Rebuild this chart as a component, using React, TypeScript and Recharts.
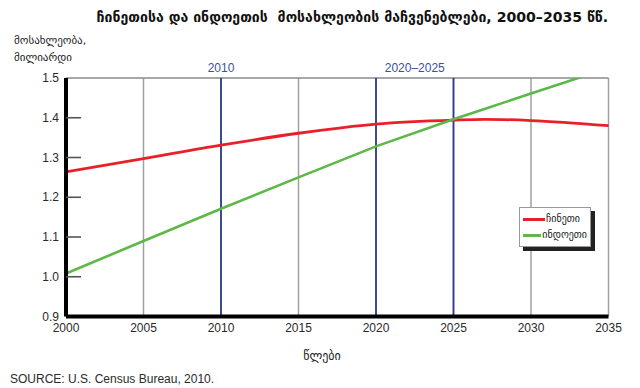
import React from 'react';
import { LineChart, Line, XAxis, YAxis, CartesianGrid, ReferenceLine, Legend } from 'recharts';

const years = [2000, 2005, 2010, 2015, 2020, 2025, 2027, 2030, 2035];
const china = [1.264, 1.297, 1.331, 1.361, 1.384, 1.394, 1.396, 1.393, 1.38];
const india = [1.008, 1.09, 1.171, 1.25, 1.328, 1.396, 1.422, 1.461, 1.525];
const xTicks = [2000, 2005, 2010, 2015, 2020, 2025, 2030, 2035];
const yTicks = [0.9, 1.0, 1.1, 1.2, 1.3, 1.4, 1.5];
const markerYears = [2010, 2020, 2025];
const markerLabels = [
  { x: 2010, text: '2010' },
  { x: 2022.5, text: '2020–2025' },
];
const seriesNames = { china: 'ჩინეთი', india: 'ინდოეთი' };
const title = 'ჩინეთისა და ინდოეთის  მოსახლეობის მაჩვენებლები, 2000–2035 წწ.';
const yLabel = ['მოსახლეობა,', 'მილიარდი'];
const xLabel = 'წლები';
const source = 'SOURCE: U.S. Census Bureau, 2010.';

const data = years.map((y, i) => ({ year: y, china: china[i], india: india[i] }));

const RED = '#e8202a';
const GREEN = '#5db848';
const BLUE = '#2e3d8f';
const GEO = '"DejaVu Sans", sans-serif';
const LAT = '"Liberation Sans", Arial, sans-serif';

const YTick = (props: any) => {
  const { x, y, payload } = props;
  const v = payload.value;
  const inner = v > 0.95 && v < 1.45;
  return (
    <g>
      <text x={x} y={y} dy={4} textAnchor="end" fontSize={12} fontFamily={LAT} fill="#2a2a2a">
        {Number(v).toFixed(1)}
      </text>
      {inner && <line x1={x + 7} x2={x + 22} y1={y} y2={y} stroke="#555" strokeWidth={1.6} />}
    </g>
  );
};

const LegendBox = () => (
  <div
    style={{
      background: '#fff',
      border: '1px solid #9a9a9a',
      boxShadow: '4px 4px 0 #222',
      padding: '3px 3px 3px 3px',
      fontFamily: GEO,
      fontSize: 10,
      color: '#1a1a1a',
      lineHeight: '16px',
      width: 64,
    }}
  >
    {[
      { name: seriesNames.china, color: RED },
      { name: seriesNames.india, color: GREEN },
    ].map((e) => (
      <div key={e.name} style={{ display: 'flex', alignItems: 'center' }}>
        <span style={{ display: 'inline-block', width: 22, height: 3, background: e.color, marginRight: 1 }} />
        <span>{e.name}</span>
      </div>
    ))}
  </div>
);

export default function App() {
  return (
    <div style={{ position: 'absolute', left: 0, top: 0, width: 640, height: 388, background: '#fff' }}>
      <LineChart width={640} height={388} data={data} margin={{ top: 78, right: 31.5, bottom: 41, left: 0 }}>
        <CartesianGrid vertical horizontal={false} stroke="#a0a0a0" strokeWidth={1.5} />
        <XAxis
          dataKey="year"
          type="number"
          domain={[2000, 2035]}
          ticks={xTicks}
          height={30.5}
          tickSize={0}
          tickMargin={7}
          tick={{ fontSize: 12, fontFamily: LAT, fill: '#2a2a2a' }}
          axisLine={{ stroke: '#000', strokeWidth: 4 }}
          tickLine={false}
        />
        <YAxis
          type="number"
          domain={[0.9, 1.5]}
          ticks={yTicks}
          allowDataOverflow
          width={66}
          tickSize={0}
          tickMargin={7}
          tick={<YTick />}
          axisLine={{ stroke: '#000', strokeWidth: 4 }}
          tickLine={false}
        />
        <ReferenceLine y={1.5} stroke="#8a8a8a" strokeWidth={1.5} />
        {markerYears.map((m) => (
          <ReferenceLine key={m} x={m} stroke={BLUE} strokeWidth={1.8} />
        ))}
        {markerLabels.map((m) => (
          <ReferenceLine
            key={m.text}
            x={m.x}
            stroke="none"
            label={{ value: m.text, position: 'top', fill: '#3d4f9f', fontSize: 12, fontFamily: LAT, offset: 6 }}
          />
        ))}
        <Line dataKey="china" type="monotone" stroke={RED} strokeWidth={2.8} dot={false} isAnimationActive={false} />
        <Line dataKey="india" type="linear" stroke={GREEN} strokeWidth={2.6} dot={false} isAnimationActive={false} />
        <Legend
          layout="vertical"
          align="center"
          verticalAlign="middle"
          content={<LegendBox />}
          wrapperStyle={{ position: 'absolute', left: 519, top: 207, width: 'auto' }}
        />
        <text x={608} y={22} textAnchor="end" fontSize={14.1} fontWeight="bold" fontFamily={GEO} fill="#111" style={{ whiteSpace: 'pre' }}>
          {title}
        </text>
        <text x={14} y={44} fontSize={11} fontFamily={GEO} fill="#222">{yLabel[0]}</text>
        <text x={14} y={61} fontSize={11} fontFamily={GEO} fill="#222">{yLabel[1]}</text>
        <text x={322} y={360} textAnchor="middle" fontSize={12} fontFamily={GEO} fill="#222">{xLabel}</text>
        <text x={10} y={383} fontSize={12} fontFamily={LAT} fill="#2a2a2a">{source}</text>
      </LineChart>
    </div>
  );
}
